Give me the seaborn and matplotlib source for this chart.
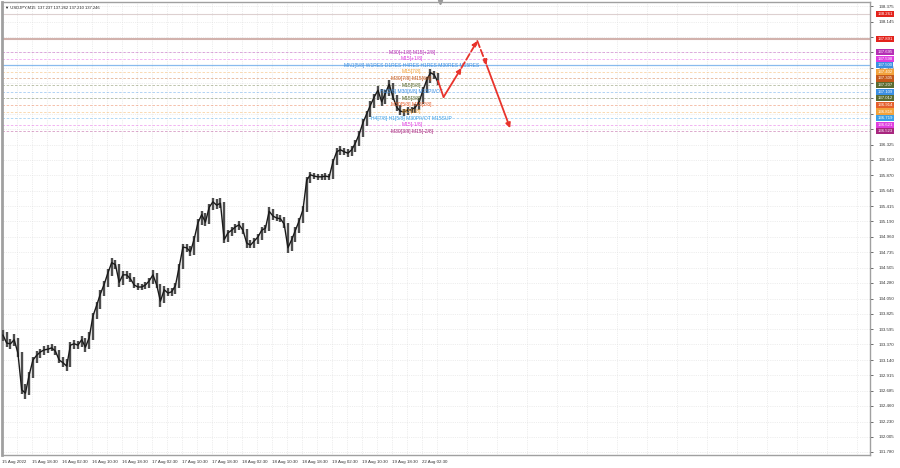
import matplotlib
matplotlib.use("Agg")
import numpy as np
import matplotlib.pyplot as plt
import matplotlib.transforms as mtransforms
import seaborn as sns

# ----------------------------
# Daten (vom Chart abgelesen)
# ----------------------------

header_text = "\u25bc USDJPY,M15  137.237 137.262 137.210 137.246"

# Stundenbalken (je 4 x M15), Hoch / Tief / Schluss
hour_high = [
    133.58, 133.55, 133.45, 133.52, 133.47, 133.26, 132.78, 132.97, 133.19, 133.27,
    133.31, 133.34, 133.36, 133.37, 133.35, 133.29, 133.18, 133.16, 133.40, 133.43,
    133.42, 133.49, 133.46, 133.55, 133.84, 134.00, 134.17, 134.31, 134.49, 134.65,
    134.62, 134.56, 134.45, 134.46, 134.43, 134.37, 134.28, 134.27, 134.30, 134.36,
    134.47, 134.42, 134.27, 134.23, 134.21, 134.20, 134.28, 134.56, 134.86, 134.85,
    134.83, 134.98, 135.22, 135.35, 135.32, 135.45, 135.54, 135.52, 135.53, 135.48,
    135.07, 135.11, 135.15, 135.19, 135.17, 135.08, 134.92, 134.95, 135.01, 135.11,
    135.14, 135.40, 135.37, 135.30, 135.28, 135.26, 135.17, 134.97, 135.11, 135.24,
    135.42, 135.84, 135.92, 135.91, 135.89, 135.89, 135.90, 135.89, 136.12, 136.27,
    136.30, 136.28, 136.26, 136.30, 136.40, 136.53, 136.70, 136.83, 136.97, 137.08,
    137.19, 137.15, 137.14, 137.28, 137.24, 137.06, 136.91, 136.86, 136.89, 136.89,
    136.93, 137.01, 137.18, 137.33, 137.44, 137.42, 137.38,
]
hour_low = [
    133.42, 133.33, 133.30, 133.34, 133.18, 132.64, 132.56, 132.62, 132.88, 133.10,
    133.17, 133.22, 133.25, 133.27, 133.21, 133.09, 133.04, 132.98, 133.03, 133.31,
    133.30, 133.33, 133.26, 133.30, 133.44, 133.74, 133.90, 134.08, 134.22, 134.39,
    134.48, 134.22, 134.25, 134.34, 134.29, 134.20, 134.17, 134.17, 134.19, 134.21,
    134.27, 134.20, 133.93, 133.98, 134.08, 134.09, 134.11, 134.20, 134.48, 134.74,
    134.68, 134.70, 134.89, 135.13, 135.12, 135.15, 135.36, 135.38, 135.39, 134.87,
    134.88, 134.98, 135.02, 135.07, 135.01, 134.80, 134.79, 134.80, 134.86, 134.92,
    135.02, 135.05, 135.21, 135.19, 135.18, 135.10, 134.73, 134.76, 134.88, 135.02,
    135.16, 135.33, 135.76, 135.82, 135.81, 135.81, 135.81, 135.80, 135.82, 136.03,
    136.18, 136.17, 136.15, 136.16, 136.21, 136.31, 136.44, 136.60, 136.74, 136.87,
    136.99, 136.90, 136.92, 137.05, 136.98, 136.82, 136.76, 136.75, 136.77, 136.79,
    136.80, 136.84, 136.92, 137.09, 137.24, 137.30, 137.21,
]
hour_close = [
    133.51, 133.39, 133.38, 133.44, 133.24, 132.70, 132.65, 132.92, 133.14, 133.21,
    133.26, 133.29, 133.30, 133.32, 133.27, 133.14, 133.10, 133.05, 133.36, 133.38,
    133.36, 133.44, 133.33, 133.47, 133.79, 133.95, 134.12, 134.26, 134.43, 134.58,
    134.55, 134.29, 134.40, 134.40, 134.34, 134.25, 134.22, 134.22, 134.25, 134.31,
    134.40, 134.25, 134.01, 134.18, 134.13, 134.15, 134.24, 134.52, 134.81, 134.80,
    134.74, 134.93, 135.17, 135.29, 135.18, 135.40, 135.48, 135.43, 135.46, 134.92,
    135.02, 135.06, 135.11, 135.14, 135.06, 134.87, 134.84, 134.90, 134.96, 135.06,
    135.09, 135.34, 135.27, 135.24, 135.23, 135.15, 134.80, 134.92, 135.06, 135.20,
    135.36, 135.80, 135.88, 135.86, 135.85, 135.85, 135.86, 135.85, 136.07, 136.22,
    136.25, 136.22, 136.20, 136.25, 136.35, 136.48, 136.65, 136.78, 136.91, 137.03,
    137.13, 136.96, 137.09, 137.22, 137.03, 136.88, 136.82, 136.81, 136.84, 136.84,
    136.88, 136.96, 137.13, 137.28, 137.39, 137.36, 137.25,
]

# Murrey-Level rechts
level_prices = [138.261, 137.891, 137.695, 137.598, 137.500, 137.402, 137.305,
                137.207, 137.109, 137.012, 136.914, 136.816, 136.719, 136.621, 136.523]
level_colors = ["#e3231c", "#e3231c", "#b52fb5", "#df3fdf", "#3b8fe3", "#f2a23c",
                "#c4581a", "#5a6b30", "#3b8fe3", "#5a6b30", "#e55f2c", "#f2a23c",
                "#3b9fe6", "#df3fdf", "#a8267f"]
level_styles = ["-", "-", "--", "--", "-", "--", "--", "--", "--", "--", "--", "--",
                "--", "--", "--"]

# Beschriftungen im Chart
note_texts = ["M30[+1/8] M15[+2/8]", "M15[+1/8]",
              "MN1[5/8] W1RES D1RES H4RES H1RES M30RES M15RES",
              "M15[7/8]", "M30[7/8] M15[6/8]", "M15[5/8]",
              "H1[3/8] M30[6/8] M15PIVOT", "M15[3/8]", "M30[5/8] M15[2/8]",
              "M15[1/8]", "H4[7/8] H1[5/8] M30PIVOT M15SUP", "M15[-1/8]",
              "M30[3/8] M15[-2/8]"]
note_prices = level_prices[2:]
note_colors = level_colors[2:]
note_bar = 436

# Prognose-Pfeile (Balken-Index M15, Preis)
forecast_bars = [464, 470, 489, 506, 516, 541]
forecast_prices = [137.27, 137.03, 137.46, 137.86, 137.50, 136.57]
forecast_styles = ["-", "-", "--", "--", "-"]
forecast_heads = [False, True, True, True, True]

time_labels = ["15 Aug 2022", "15 Aug 18:30", "16 Aug 02:30", "16 Aug 10:30",
               "16 Aug 18:30", "17 Aug 02:30", "17 Aug 10:30", "17 Aug 18:30",
               "18 Aug 02:30", "18 Aug 10:30", "18 Aug 18:30", "19 Aug 02:30",
               "19 Aug 10:30", "19 Aug 18:30", "22 Aug 02:30"]
price_labels = ["131.780", "132.005", "132.230", "132.460", "132.685", "132.915",
                "133.140", "133.370", "133.595", "133.825", "134.050", "134.280",
                "134.505", "134.735", "134.960", "135.190", "135.415", "135.645",
                "135.870", "136.100", "136.325", "136.555", "136.780", "137.010",
                "137.235", "137.465", "137.690", "137.915", "138.145", "138.375"]

# ----------------------------
# Plot
# ----------------------------

sns.set_style("white")
plt.rcParams["font.family"] = ["Liberation Sans", "DejaVu Sans"]

fig = plt.figure(figsize=(9, 4.68), dpi=100)
ax = fig.add_axes([2 / 900, 13 / 468, 868 / 900, 453 / 468])

bar_x = np.arange(len(hour_close)) * 4
ax.vlines(bar_x, hour_low, hour_high, color="#4d4d4d", lw=1.7, zorder=3)
sns.lineplot(x=bar_x, y=hour_close, color="#1a1a1a", lw=1.0, ax=ax, zorder=4)

# Levels
for p, c, ls in zip(level_prices, level_colors, level_styles):
    if p > 137.8:
        ax.axhline(p, color="#d2b2ad" if p < 138 else "#ddd0d0",
                   lw=1.5 if p < 138 else 0.8, zorder=2)
    elif ls == "-":
        ax.axhline(p, color=c, alpha=0.6, lw=0.9, zorder=2)
    else:
        ax.axhline(p, color=c, alpha=0.45, lw=0.6, dashes=(3, 2), zorder=2)

trans = mtransforms.blended_transform_factory(ax.transAxes, ax.transData)
for p, c in zip(level_prices, level_colors):
    ax.text(1.0085, p, f"{p:.3f}", transform=trans, fontsize=3.1, color="white",
            ha="left", va="center", clip_on=False, zorder=10,
            bbox=dict(boxstyle="square,pad=0.25", fc=c, ec="none"))

for t, p, c in zip(note_texts, note_prices, note_colors):
    ax.text(note_bar, p, t, fontsize=3.6, color=c, ha="center", va="center", zorder=6)

# Pfeile
for i, (ls, head) in enumerate(zip(forecast_styles, forecast_heads)):
    start = (forecast_bars[i], forecast_prices[i])
    end = (forecast_bars[i + 1], forecast_prices[i + 1])
    ax.annotate("", xy=end, xytext=start, zorder=7,
                arrowprops=dict(arrowstyle="-|>" if head else "-", color="#e8332b",
                                lw=1.3, linestyle=ls, mutation_scale=7,
                                shrinkA=0, shrinkB=0))

# Achsen
x_ticks = [-1] + [31 + 32 * k for k in range(len(time_labels) - 1)]
ax.set_xticks(x_ticks)
ax.set_xticklabels(time_labels)
for lbl in ax.get_xticklabels():
    lbl.set_ha("left")
ax.set_xticks([15 + 32 * k for k in range(29)], minor=True)
ax.set_xlim(-1, -1 + 868 * 32 / 30)

ax.yaxis.tick_right()
ax.set_yticks([float(v) for v in price_labels])
ax.set_yticklabels(price_labels)
ax.set_ylim(131.735, 138.436)

ax.tick_params(axis="both", which="both", labelsize=3.2, colors="#333333",
               length=2, width=0.5)
ax.tick_params(axis="y", pad=4)
ax.tick_params(axis="x", pad=1.5)
ax.grid(True, which="both", color="#dedede", lw=0.5, ls=":")
for s in ax.spines.values():
    s.set_color("#a0a0a0")
    s.set_linewidth(1.0)
ax.spines["left"].set_linewidth(2)

ax.plot([466], [1.0], marker="v", color="#999999", ms=3,
        transform=mtransforms.blended_transform_factory(ax.transData, ax.transAxes),
        clip_on=False)
ax.text(0.003, 0.993, header_text, transform=ax.transAxes, fontsize=3.0,
        color="#222222", ha="left", va="top")

fig.savefig("out.png", dpi=100)
plt.close()
